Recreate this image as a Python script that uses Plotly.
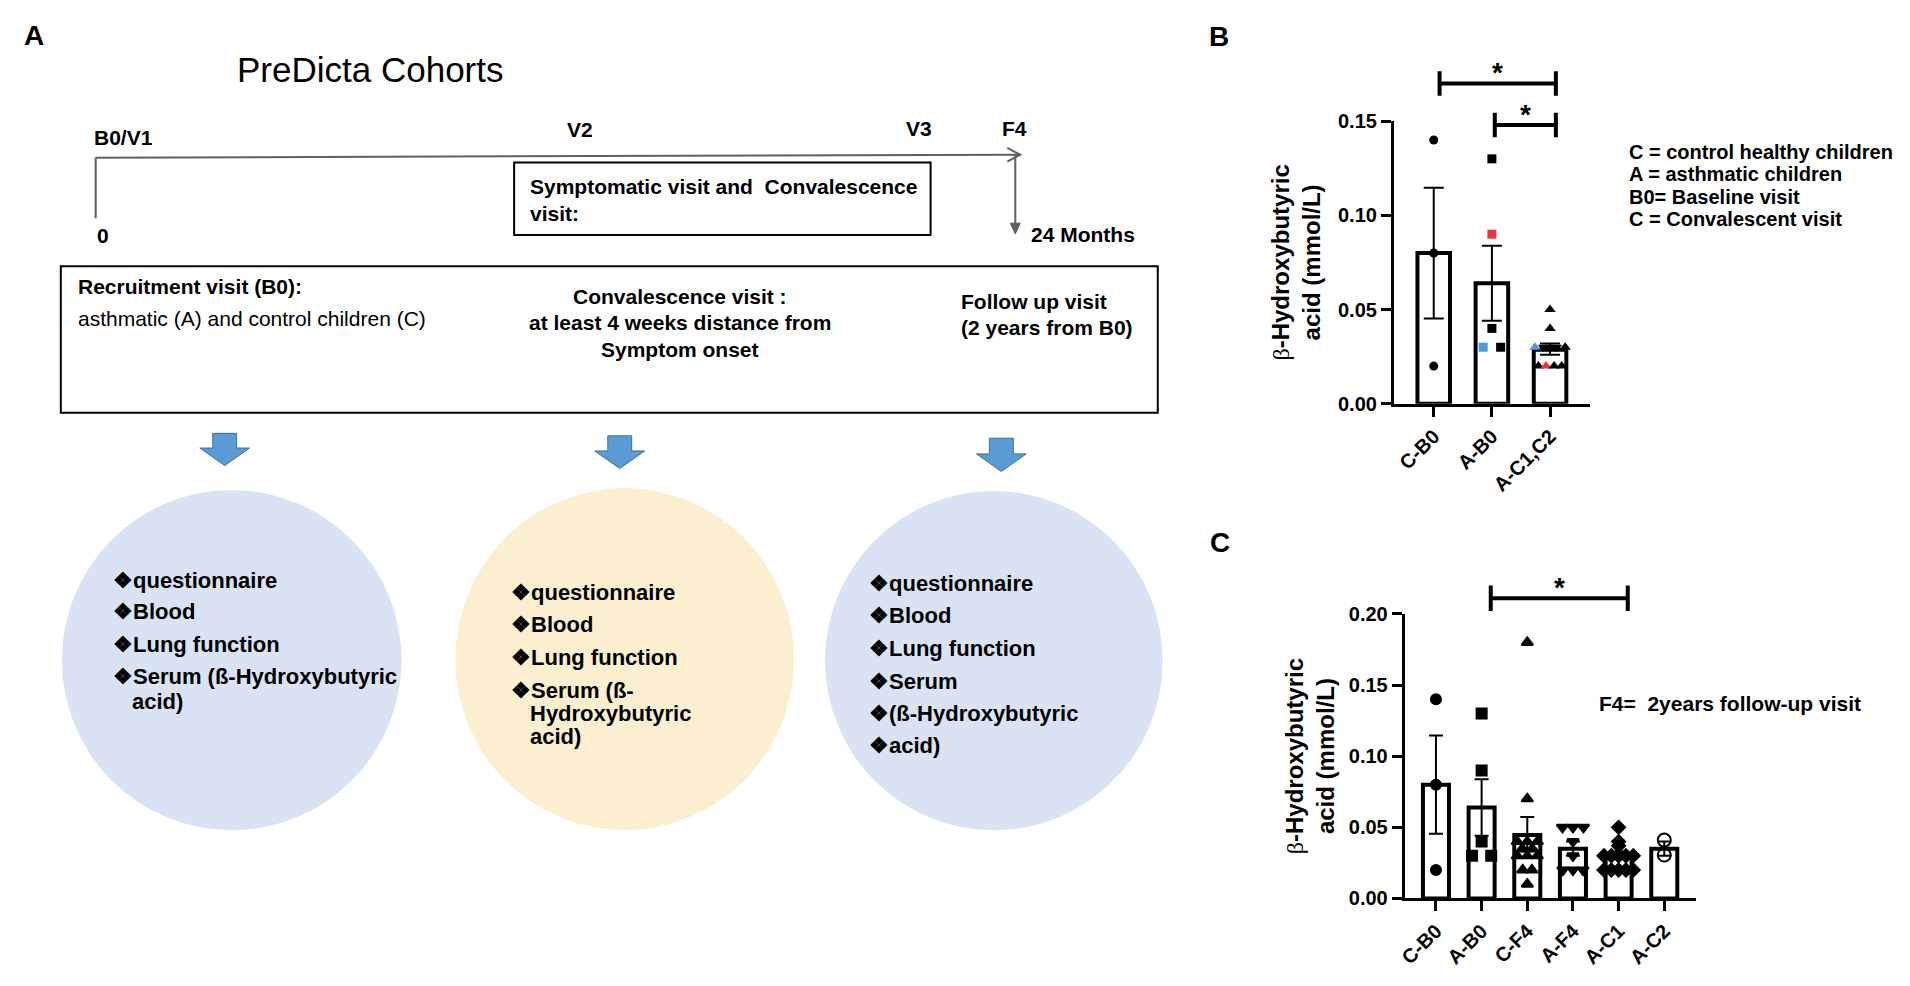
import plotly.graph_objects as go

W, H = 1910, 986


def X(p):
    return p / W


def Y(p):
    return 1 - p / H


FONT = "Liberation Sans, Arial, sans-serif"

# ---------------- Panel B data ----------------
b_cats = ["C-B0", "A-B0", "A-C1,C2"]
b_means = [0.080, 0.064, 0.0286]
b_err_hi = [0.1147, 0.0839, 0.032]
b_err_lo = [0.0453, 0.0441, 0.026]
b_pt_cat = [0, 0, 0, 1, 1, 1, 1, 1, 2, 2, 2, 2, 2, 2, 2, 2, 2, 2, 2]
b_pt_val = [0.14, 0.08, 0.02,
            0.13, 0.09, 0.04, 0.03, 0.03,
            0.05, 0.04, 0.03, 0.03, 0.03, 0.03, 0.03, 0.02, 0.02, 0.02, 0.02]
b_pt_group = ["k", "k", "k",
              "k", "r", "k", "b", "k",
              "k", "k", "b", "k", "k", "k", "k", "k", "r", "k", "k"]
b_pt_shape = ["circle"] * 3 + ["square"] * 5 + ["triangle-up"] * 3 + ["triangle-down"] * 3 + ["triangle-up"] * 5
b_jitter = [0, 0, 0,
            0, 0, 0, -0.15, 0.15,
            0, 0, -0.26, -0.11, 0, 0.11, 0.26, -0.2, -0.07, 0.07, 0.2]
b_sig_from = [0.1, 1.05]
b_sig_to = [2.1, 2.1]
b_sig_level = [0.170, 0.148]
b_legend = ["C = control healthy children", "A = asthmatic children",
            "B0= Baseline visit", "C = Convalescent visit"]

# ---------------- Panel C data ----------------
c_cats = ["C-B0", "A-B0", "C-F4", "A-F4", "A-C1", "A-C2"]
c_means = [0.080, 0.064, 0.0446, 0.035, 0.031, 0.035]
c_err_hi = [0.1145, 0.0838, 0.0573, 0.040, 0.033, 0.040]
c_err_lo = [0.0455, 0.044, 0.033, 0.030, 0.029, 0.030]
c_pt_cat = ([0] * 3 + [1] * 5 + [2] * 13 + [3] * 8 + [4] * 13 + [5] * 2)
c_pt_val = ([0.14, 0.08, 0.02] +
            [0.13, 0.09, 0.04, 0.03, 0.03] +
            [0.18, 0.07, 0.04, 0.04, 0.04, 0.035, 0.035, 0.03, 0.03, 0.03, 0.02, 0.02, 0.01] +
            [0.05, 0.05, 0.05, 0.04, 0.03, 0.02, 0.02, 0.02] +
            [0.05, 0.04, 0.037, 0.03, 0.03, 0.03, 0.03, 0.03, 0.02, 0.02, 0.02, 0.02, 0.02] +
            [0.041, 0.0305])
c_shape_by_cat = ["circle", "square", "triangle-up", "triangle-down", "diamond", "circle-open"]
c_jitter = ([0, 0, 0] +
            [0, 0, 0, -0.21, 0.21] +
            [0, 0, -0.22, 0, 0.22, -0.11, 0.11, -0.22, 0, 0.22, -0.1, 0.1, 0] +
            [-0.23, 0, 0.23, 0, 0, -0.22, 0, 0.22] +
            [0, 0, 0, -0.32, -0.16, 0, 0.16, 0.32, -0.32, -0.16, 0, 0.16, 0.32] +
            [0, 0])
c_sig_from = [1.2]
c_sig_to = [4.2]
c_sig_level = [0.211]
c_note = "F4=  2years follow-up visit"

ytitle = ("<span style='font-family:Liberation Serif;font-weight:normal'>β</span>"
          "-Hydroxybutyric<br>acid (mmol/L)")

COLORS = {"k": "black", "r": "#E8383D", "b": "#4A9AE6"}

# pixel geometry of the two plot panels
B_LEFT, B_RIGHT, B_BOT, B_TOP, B_YMAX = 1392, 1589, 401.7, 112.7, 0.15
C_LEFT, C_RIGHT, C_BOT, C_TOP, C_YMAX = 1402.9, 1695, 907.7, 616.7, 0.20
B_XR = [-0.685, 2.69]
C_XR = [-0.683, 5.69]
B_EXT, C_EXT = 40, 560   # top of the invisible overlay axes used for brackets/stars
b_ext_max = B_YMAX * (B_BOT - B_EXT) / (B_BOT - B_TOP)
c_ext_max = C_YMAX * (C_BOT - C_EXT) / (C_BOT - C_TOP)

fig = go.Figure()

# ---- Panel B traces ----
fig.add_trace(go.Bar(
    x=list(range(len(b_cats))), y=b_means, width=0.56,
    marker=dict(color="white", line=dict(color="black", width=4)),
    error_y=dict(type="data", symmetric=False,
                 array=[h - m for h, m in zip(b_err_hi, b_means)],
                 arrayminus=[m - l for l, m in zip(b_err_lo, b_means)],
                 color="black", thickness=2, width=10),
    xaxis="x", yaxis="y", showlegend=False))
fig.add_trace(go.Scatter(
    x=[c + d for c, d in zip(b_pt_cat, b_jitter)], y=b_pt_val, mode="markers",
    marker=dict(symbol=b_pt_shape, size=[9 if s in ("circle", "square") else 10 for s in b_pt_shape],
                color=[COLORS[g] for g in b_pt_group], line=dict(width=0), opacity=1),
    cliponaxis=False, xaxis="x", yaxis="y", showlegend=False))
for a, b, lv in zip(b_sig_from, b_sig_to, b_sig_level):
    d = 0.0065
    fig.add_trace(go.Scatter(
        x=[a, a, None, a, b, None, b, b], y=[lv - d, lv + d, None, lv, lv, None, lv - d, lv + d],
        mode="lines", line=dict(color="black", width=4),
        xaxis="x3", yaxis="y3", showlegend=False, hoverinfo="skip"))

# ---- Panel C traces ----
fig.add_trace(go.Bar(
    x=list(range(len(c_cats))), y=c_means, width=0.57,
    marker=dict(color="white", line=dict(color="black", width=4)),
    error_y=dict(type="data", symmetric=False,
                 array=[h - m for h, m in zip(c_err_hi, c_means)],
                 arrayminus=[m - l for l, m in zip(c_err_lo, c_means)],
                 color="black", thickness=2, width=7),
    xaxis="x2", yaxis="y2", showlegend=False))
fig.add_trace(go.Scatter(
    x=[c + d for c, d in zip(c_pt_cat, c_jitter)], y=c_pt_val, mode="markers",
    marker=dict(symbol=[c_shape_by_cat[c] for c in c_pt_cat],
                size=[10 if c_shape_by_cat[c] != "circle-open" else 13 for c in c_pt_cat],
                color="black", line=dict(width=2, color="black"), opacity=1),
    cliponaxis=False, xaxis="x2", yaxis="y2", showlegend=False))
for a, b, lv in zip(c_sig_from, c_sig_to, c_sig_level):
    d = 0.009
    fig.add_trace(go.Scatter(
        x=[a, a, None, a, b, None, b, b], y=[lv - d, lv + d, None, lv, lv, None, lv - d, lv + d],
        mode="lines", line=dict(color="black", width=4),
        xaxis="x4", yaxis="y4", showlegend=False, hoverinfo="skip"))

tickfont = dict(family=FONT, size=20, color="black", weight="bold")
axis_common = dict(showgrid=False, zeroline=False, showline=True, linewidth=3, linecolor="black",
                   ticks="outside", ticklen=10, tickwidth=3, tickcolor="black", tickfont=tickfont,
                   fixedrange=True)
hidden = dict(visible=False, showgrid=False, zeroline=False, fixedrange=True)

fig.update_layout(
    width=W, height=H, margin=dict(l=0, r=0, t=0, b=0),
    paper_bgcolor="white", plot_bgcolor="rgba(0,0,0,0)", showlegend=False,
    font=dict(family=FONT, color="black"),
    xaxis=dict(domain=[X(B_LEFT), X(B_RIGHT)], range=B_XR, anchor="y",
               tickvals=list(range(len(b_cats))), ticktext=b_cats, tickangle=-45, **axis_common),
    yaxis=dict(domain=[Y(B_BOT), Y(B_TOP)], range=[0, B_YMAX], anchor="x",
               tickvals=[0, 0.05, 0.10, 0.15], tickformat=".2f", **axis_common),
    xaxis2=dict(domain=[X(C_LEFT), X(C_RIGHT)], range=C_XR, anchor="y2",
                tickvals=list(range(len(c_cats))), ticktext=c_cats, tickangle=-45, **axis_common),
    yaxis2=dict(domain=[Y(C_BOT), Y(C_TOP)], range=[0, C_YMAX], anchor="x2",
                tickvals=[0, 0.05, 0.10, 0.15, 0.20], tickformat=".2f", **axis_common),
    xaxis3=dict(domain=[X(B_LEFT), X(B_RIGHT)], range=B_XR, anchor="y3", **hidden),
    yaxis3=dict(domain=[Y(B_BOT), Y(B_EXT)], range=[0, b_ext_max], anchor="x3", **hidden),
    xaxis4=dict(domain=[X(C_LEFT), X(C_RIGHT)], range=C_XR, anchor="y4", **hidden),
    yaxis4=dict(domain=[Y(C_BOT), Y(C_EXT)], range=[0, c_ext_max], anchor="x4", **hidden),
)

ann = []


def txt(s, x, y, size=21, bold=True, xanchor="left", yanchor="middle", color="black", family=FONT, **kw):
    ann.append(dict(text=s, x=X(x), y=Y(y), xref="paper", yref="paper", showarrow=False,
                    xanchor=xanchor, yanchor=yanchor,
                    font=dict(family=family, size=size, color=color, weight="bold" if bold else "normal"),
                    **kw))


# significance stars (data coords on the overlay axes)
for a, b, lv in zip(b_sig_from, b_sig_to, b_sig_level):
    ann.append(dict(text="*", x=(a + b) / 2, y=lv + 0.010, xref="x3", yref="y3", showarrow=False,
                    yanchor="middle", font=dict(family=FONT, size=28, color="black", weight="bold"),
                    yshift=-8))
for a, b, lv in zip(c_sig_from, c_sig_to, c_sig_level):
    ann.append(dict(text="*", x=(a + b) / 2, y=lv + 0.013, xref="x4", yref="y4", showarrow=False,
                    yanchor="middle", font=dict(family=FONT, size=28, color="black", weight="bold"),
                    yshift=-8))

# Panel letters
txt("A", 15, 25, size=28)
txt("B", 1204, 26, size=28)
txt("C", 1205, 544, size=28)

# y titles
txt(ytitle, 1294, 257, size=24, xanchor="center", textangle=-90)
txt(ytitle, 1308, 762, size=24, xanchor="center", textangle=-90)

# Panel B legend and panel C note
for i, s in enumerate(b_legend):
    txt(s, 1625.6, [144, 166.7, 190, 212.7][i], size=20)
txt(c_note, 1595.4, 708, size=21)

# ---------------- Panel A ----------------
shapes = []
LINEC = "#5F5F5F"


def line(x0, y0, x1, y1, color=LINEC, width=2):
    shapes.append(dict(type="line", xref="paper", yref="paper", x0=X(x0), y0=Y(y0), x1=X(x1), y1=Y(y1),
                       line=dict(color=color, width=width)))


def path(pts, closed=True, fill=None, color=LINEC, width=2):
    d = "M " + " L ".join(f"{X(a):.5f},{Y(b):.5f}" for a, b in pts) + (" Z" if closed else "")
    shapes.append(dict(type="path", xref="paper", yref="paper", path=d,
                       fillcolor=fill if fill else "rgba(0,0,0,0)", line=dict(color=color, width=width)))


# timeline
line(89, 150, 1017, 147)
path([(1004, 140), (1017, 147), (1004, 154)], closed=False)
line(89, 150, 89, 212)
line(1012, 147, 1012, 218)
path([(1007, 217), (1017, 217), (1012, 228)], fill=LINEC, width=1)
# boxes
shapes.append(dict(type="rect", xref="paper", yref="paper", x0=X(509), y0=Y(155), x1=X(927), y1=Y(229),
                   line=dict(color="black", width=2)))
shapes.append(dict(type="rect", xref="paper", yref="paper", x0=X(54), y0=Y(261), x1=X(1155), y1=Y(411),
                   line=dict(color="black", width=2)))
# blue arrows
for c, t, h, p in [(218.5, 432, 447, 465), (615, 434.5, 450, 468), (998, 437, 453, 471)]:
    path([(c - 12, t), (c + 12, t), (c + 12, h), (c + 25, h), (c, p), (c - 25, h), (c - 12, h)],
         fill="#5B9BD5", color="#41719C", width=1)
# ellipses
for x0, y0, x1, y1, col in [(55, 490, 396, 838, "#DAE3F3"), (450, 488, 790, 838, "#FCEFCF"),
                            (821, 491, 1160, 838, "#DAE3F3")]:
    shapes.append(dict(type="circle", xref="paper", yref="paper", x0=X(x0), y0=Y(y0), x1=X(x1), y1=Y(y1),
                       fillcolor=col, line=dict(width=0), layer="below"))

txt("PreDicta Cohorts", 229, 60, size=35, bold=False)
txt("B0/V1", 85, 129)
txt("V2", 560, 121)
txt("V3", 900, 120)
txt("F4", 997, 120)
txt("0", 88, 230)
txt("24 Months", 1026, 229)
txt("Symptomatic visit and  Convalescence", 523, 179)
txt("visit:", 523, 207)
txt("Recruitment visit (B0):", 69, 282)
txt("asthmatic (A) and control children (C)", 69, 315, bold=False)
txt("Convalescence visit :", 675, 292, xanchor="center")
txt("at least 4 weeks distance from", 675, 319, xanchor="center")
txt("Symptom onset", 675, 346, xanchor="center")
txt("Follow up visit", 956, 297)
txt("(2 years from B0)", 956, 324)

circle1 = [("❖questionnaire", 582), ("❖Blood", 614.6), ("❖Lung function", 648), ("❖Serum (ß-Hydroxybutyric", 681)]
circle2 = [("❖questionnaire", 595), ("❖Blood", 627), ("❖Lung function", 661), ("❖Serum (ß-", 695)]
circle3 = [("❖questionnaire", 585.6), ("❖Blood", 618.6), ("❖Lung function", 652), ("❖Serum", 685.6),
           ("❖(ß-Hydroxybutyric", 719), ("❖acid)", 751.5)]
for s, y in circle1:
    txt(s, 104, y, size=22)
txt("acid)", 123, 706, size=22)
for s, y in circle2:
    txt(s, 504, y, size=22)
txt("Hydroxybutyric", 523, 719, size=22)
txt("acid)", 523, 742.5, size=22)
for s, y in circle3:
    txt(s, 863, y, size=22)

fig.update_layout(annotations=ann, shapes=shapes)

fig.write_html("out.html", config={"displayModeBar": False},
               post_script="document.body.style.margin='0';document.body.style.overflow='hidden';")
